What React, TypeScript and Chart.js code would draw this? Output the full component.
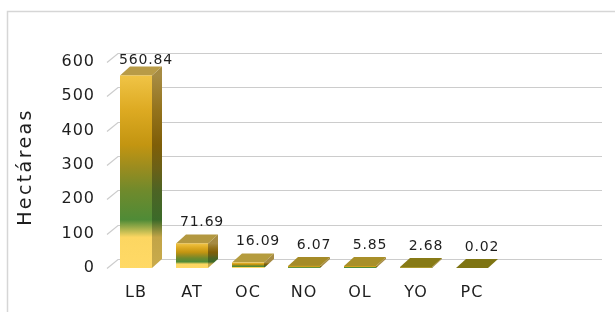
import { useEffect, useRef } from "react";
import { Chart, registerables } from "chart.js";

Chart.register(...registerables);

const categories = ["LB", "AT", "OC", "NO", "OL", "YO", "PC"];
const hectareas = [560.84, 71.69, 16.09, 6.07, 5.85, 2.68, 0.02];
const yTicks = [0, 100, 200, 300, 400, 500, 600];
const yTitle = "Hectáreas";

const FONT = "'DejaVu Sans', sans-serif";
const TEXT = "#1E1E1E";
const GRID = "#CCCCCC";
const DX = 10;
const DY = -9;

const frontStops: [number, string][] = [
  [0, "#FFD966"],
  [0.16, "#FCD661"],
  [0.25, "#4F8B37"],
  [0.4, "#6F8A2C"],
  [0.52, "#9A8C1F"],
  [0.64, "#C39511"],
  [0.82, "#DDAA22"],
  [1, "#F0C446"],
];
const sideStops: [number, string][] = [
  [0, "#C9AB4C"],
  [0.16, "#C2A447"],
  [0.25, "#3B6A29"],
  [0.4, "#4C6424"],
  [0.52, "#6C6016"],
  [0.64, "#7F5E08"],
  [0.82, "#94731C"],
  [1, "#A68B43"],
];
const topColors = ["#B89B47", "#B39840", "#B59C3E", "#A58B27", "#A88F29", "#877A16", "#7E7413"];

function makeGradient(ctx: CanvasRenderingContext2D, yBase: number, yTop: number, stops: [number, string][]) {
  const g = ctx.createLinearGradient(0, yBase, 0, Math.min(yTop, yBase - 0.5));
  stops.forEach(([o, c]) => g.addColorStop(o, c));
  return g;
}

const bar3d = {
  id: "bar3d",
  beforeDraw(chart: any) {
    const ctx: CanvasRenderingContext2D = chart.ctx;
    const { chartArea, scales } = chart;
    const y = scales.y;
    ctx.save();
    ctx.fillStyle = "#ffffff";
    ctx.fillRect(0, 0, chart.width, chart.height);
    ctx.strokeStyle = "#D6D6D6";
    ctx.lineWidth = 1.5;
    ctx.strokeRect(7.5, 11.5, chart.width + 40, chart.height + 40);
    // back-wall grid with depth diagonals
    const gridRight = chartArea.right + 102;
    ctx.strokeStyle = GRID;
    ctx.lineWidth = 1.2;
    ctx.setLineDash([]);
    ctx.globalAlpha = 1;
    yTicks.forEach((v) => {
      const py = Math.round(y.getPixelForValue(v)) + 0.5;
      ctx.beginPath();
      ctx.moveTo(chartArea.left - 1, py);
      ctx.lineTo(chartArea.left + DX, py + DY);
      ctx.lineTo(gridRight, py + DY);
      ctx.stroke();
    });
    ctx.restore();
    // y title
    ctx.save();
    (ctx as any).letterSpacing = "2.4px";
    ctx.fillStyle = TEXT;
    ctx.font = `19px ${FONT}`;
    ctx.textAlign = "center";
    ctx.textBaseline = "middle";
    ctx.translate(26, (chartArea.top + chartArea.bottom) / 2 + 2);
    ctx.rotate(-Math.PI / 2);
    ctx.fillText(yTitle, 0, 0);
    ctx.restore();
    (ctx as any).letterSpacing = "1px";
  },
  afterDatasetsDraw(chart: any) {
    const ctx: CanvasRenderingContext2D = chart.ctx;
    const meta = chart.getDatasetMeta(0);
    const { chartArea } = chart;
    meta.data.forEach((el: any, i: number) => {
      const { x, y, base, width } = el.getProps(["x", "y", "base", "width"], true);
      const l = x - width / 2;
      const r = x + width / 2;
      ctx.save();
      // side
      ctx.fillStyle = makeGradient(ctx, base, y, sideStops);
      ctx.beginPath();
      ctx.moveTo(r, base);
      ctx.lineTo(r + DX, base + DY);
      ctx.lineTo(r + DX, y + DY);
      ctx.lineTo(r, y);
      ctx.closePath();
      ctx.fill();
      // top
      ctx.fillStyle = topColors[i];
      ctx.beginPath();
      ctx.moveTo(l, y);
      ctx.lineTo(r, y);
      ctx.lineTo(r + DX, y + DY);
      ctx.lineTo(l + DX, y + DY);
      ctx.closePath();
      ctx.fill();
      // front
      if (base - y > 0.3) {
        ctx.fillStyle = makeGradient(ctx, base, y, frontStops);
        ctx.fillRect(l, y, width, base - y);
      }
      ctx.restore();
      // value label
      ctx.save();
      (ctx as any).letterSpacing = "0.8px";
      ctx.fillStyle = TEXT;
      ctx.font = `14px ${FONT}`;
      ctx.textAlign = "center";
      ctx.textBaseline = "middle";
      const ly = Math.max(y + DY - 12, chartArea.top - 2);
      ctx.fillText(hectareas[i].toFixed(2), x + 10, ly);
      ctx.restore();
    });
  },
};

export default function App() {
  const ref = useRef<HTMLCanvasElement | null>(null);
  useEffect(() => {
    if (!ref.current) return;
    const chart = new Chart(ref.current, {
      type: "bar",
      data: {
        labels: categories,
        datasets: [
          {
            label: yTitle,
            data: hectareas,
            backgroundColor: "rgba(0,0,0,0)",
            borderWidth: 0,
            categoryPercentage: 1,
            barPercentage: 32 / 56,
          },
        ],
      },
      options: {
        animation: false,
        responsive: false,
        maintainAspectRatio: false,
        layout: { padding: { left: 0, right: 115, top: 62, bottom: 0 } },
        plugins: { legend: { display: false }, tooltip: { enabled: false } },
        scales: {
          x: {
            grid: { display: false, drawTicks: false },
            border: { display: false },
            ticks: { color: TEXT, font: { family: FONT, size: 16 }, padding: 15 },
            afterFit: (s: any) => {
              s.height = 44;
            },
          },
          y: {
            min: 0,
            max: 600,
            grid: { display: false, drawTicks: false },
            border: { display: false },
            ticks: { stepSize: 100, color: TEXT, font: { family: FONT, size: 16 }, padding: 13 },
            afterFit: (s: any) => {
              s.width = 108;
            },
          },
        },
      },
      plugins: [bar3d],
    });
    return () => chart.destroy();
  }, []);
  return (
    <div style={{ position: "fixed", left: 0, top: 0, width: 615, height: 312, background: "#fff" }}>
      <canvas ref={ref} width={615} height={312} style={{ display: "block", width: 615, height: 312 }} />
    </div>
  );
}
